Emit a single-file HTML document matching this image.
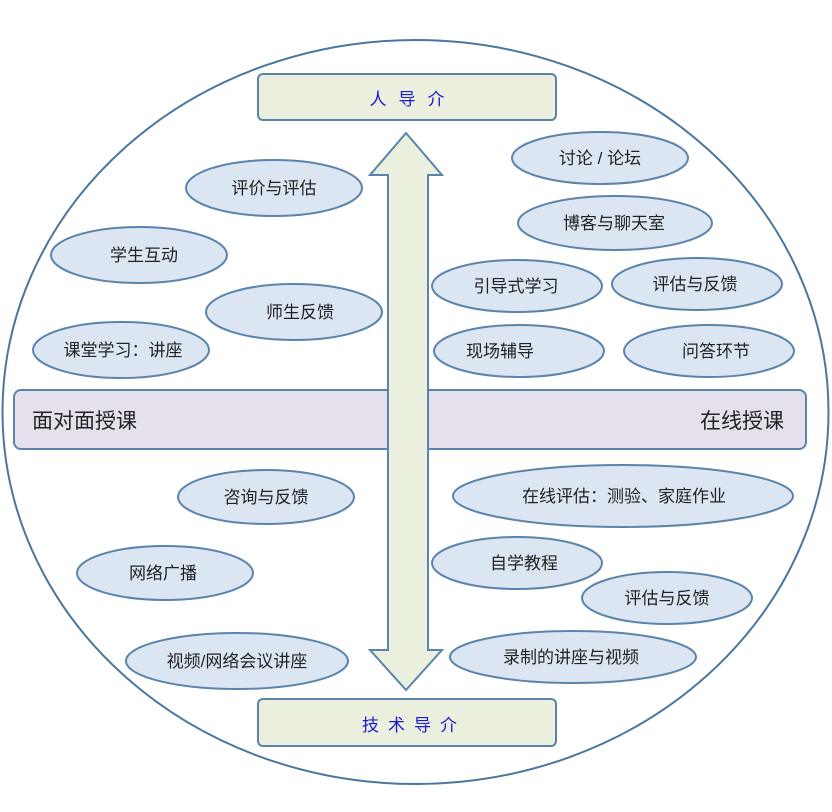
<!DOCTYPE html>
<html><head><meta charset="utf-8"><style>
body{margin:0;background:#fff}
text{font-family:"Liberation Sans","Noto Sans CJK SC",sans-serif;}
</style></head><body>
<svg width="832" height="807" viewBox="0 0 832 807" xmlns="http://www.w3.org/2000/svg">
<ellipse cx="415.5" cy="412" rx="413" ry="372" fill="#fff" stroke="#4a76a0" stroke-width="2"/>
<rect x="14" y="390" width="792" height="59" rx="7" fill="#e5e0ec" stroke="#5a84ac" stroke-width="2"/>
<text x="32" y="428" font-size="21" fill="#222">面对面授课</text>
<text x="784" y="428" font-size="21" fill="#222" text-anchor="end">在线授课</text>
<path d="M406 133 L442 175 L428 175 L428 650 L442 650 L406 690 L370 650 L388 650 L388 175 L370 175 Z" fill="#ebf0de" stroke="#5a84ac" stroke-width="2"/>
<rect x="258" y="74" width="298" height="46" rx="5" fill="#ebf0de" stroke="#5a84ac" stroke-width="2"/>
<text x="413" y="105" font-size="17" fill="#1a1ad0" text-anchor="middle" letter-spacing="12">人导介</text>
<rect x="258" y="699" width="298" height="47" rx="5" fill="#ebf0de" stroke="#5a84ac" stroke-width="2"/>
<text x="414" y="731" font-size="17" fill="#1a1ad0" text-anchor="middle" letter-spacing="9">技术导介</text>
<g fill="#dce6f2" stroke="#5a84ac" stroke-width="2">
<ellipse cx="274" cy="188" rx="88" ry="28"/>
<ellipse cx="139" cy="255" rx="88" ry="28"/>
<ellipse cx="294" cy="312" rx="88" ry="28"/>
<ellipse cx="121" cy="350" rx="88" ry="28"/>
<ellipse cx="600" cy="158" rx="88" ry="26"/>
<ellipse cx="615" cy="223" rx="97" ry="27"/>
<ellipse cx="517" cy="286" rx="85" ry="26"/>
<ellipse cx="697" cy="284" rx="85" ry="26"/>
<ellipse cx="519" cy="351" rx="85" ry="26"/>
<ellipse cx="709" cy="351" rx="85" ry="26"/>
<ellipse cx="266" cy="497" rx="88" ry="27"/>
<ellipse cx="165" cy="573" rx="88" ry="27"/>
<ellipse cx="237" cy="661" rx="111" ry="28"/>
<ellipse cx="623" cy="496" rx="170" ry="31"/>
<ellipse cx="517" cy="563" rx="85" ry="26"/>
<ellipse cx="667" cy="598" rx="85" ry="26"/>
<ellipse cx="573" cy="657" rx="123" ry="26"/>
</g>
<g font-size="17" fill="#222" text-anchor="middle">
<text x="274" y="194">评价与评估</text>
<text x="144" y="261">学生互动</text>
<text x="300" y="318">师生反馈</text>
<text x="123" y="356">课堂学习：讲座</text>
<text x="600" y="164">讨论 / 论坛</text>
<text x="614" y="229">博客与聊天室</text>
<text x="516" y="292">引导式学习</text>
<text x="695" y="290">评估与反馈</text>
<text x="500" y="357">现场辅导</text>
<text x="716" y="357">问答环节</text>
<text x="266" y="503">咨询与反馈</text>
<text x="163" y="579">网络广播</text>
<text x="237" y="667">视频/网络会议讲座</text>
<text x="624" y="502">在线评估：测验、家庭作业</text>
<text x="524" y="569">自学教程</text>
<text x="667" y="604">评估与反馈</text>
<text x="571" y="663">录制的讲座与视频</text>
</g>
</svg>
</body></html>
